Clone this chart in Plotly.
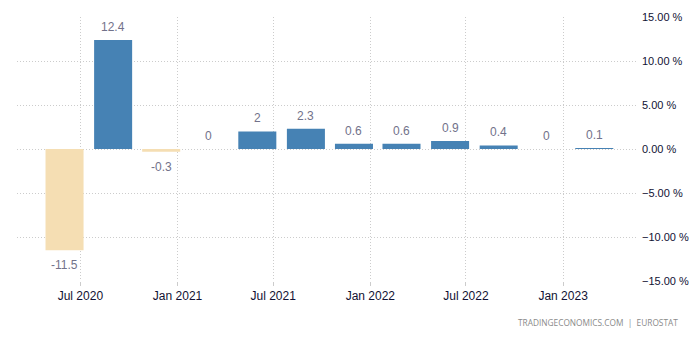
import plotly.graph_objects as go

dates = ["2020-06-01", "2020-09-01", "2020-12-01", "2021-03-01", "2021-06-01", "2021-09-01",
         "2021-12-01", "2022-03-01", "2022-06-01", "2022-09-01", "2022-12-01", "2023-03-01"]
values = [-11.5, 12.4, -0.3, 0, 2, 2.3, 0.6, 0.6, 0.9, 0.4, 0, 0.1]
labels = ["-11.5", "12.4", "-0.3", "0", "2", "2.3", "0.6", "0.6", "0.9", "0.4", "0", "0.1"]

BLUE = "#4682B4"
WHEAT = "#F5DEB3"
colors = [WHEAT if v < 0 else BLUE for v in values]

fig = go.Figure()
fig.add_trace(go.Bar(
    x=dates, y=values, marker=dict(color=colors, line=dict(width=0)),
    width=[72 * 86400000] * len(values), hoverinfo="skip",
))

for d, v, t in zip(dates, values, labels):
    fig.add_annotation(x=d, y=v, text=t, showarrow=False,
                       yshift=(-15 if v < 0 else 13),
                       font=dict(family="Liberation Sans, Arial", size=12, color="#72728a"))

fig.add_annotation(xref="paper", yref="paper", x=1.071, y=-0.159, xanchor="right", yanchor="middle",
                   text="TRADINGECONOMICS.COM  |  EUROSTAT", showarrow=False,
                   font=dict(family="Open Sans", size=8.3, color="#8a8a8a"))

fig.update_layout(
    width=693, height=337,
    margin=dict(l=17, r=57, t=17, b=56, autoexpand=False),
    paper_bgcolor="white", plot_bgcolor="white",
    showlegend=False,
    font=dict(family="Liberation Sans, Arial", size=12, color="#111111"),
    xaxis=dict(type="date", range=["2020-03-03", "2023-05-19"], dtick="M6", tick0="2020-01-01",
               tickformat="%b %Y", showgrid=True, gridcolor="#cccccc", griddash="1px,2px", gridwidth=1,
               ticks="outside", ticklen=4, tickcolor="#cccccc", showline=False, zeroline=False,
               automargin=False, tickfont=dict(size=12, color="#111133")),
    yaxis=dict(range=[-15, 15], dtick=5, side="right", tickformat=".2f", ticksuffix=" %",
               showgrid=True, gridcolor="#cccccc", griddash="1px,2px", gridwidth=1,
               zeroline=False, showline=False, ticks="", ticklabelstandoff=5, automargin=False,
               tickfont=dict(size=11, color="#111133")),
)

fig.write_html("out.html")
